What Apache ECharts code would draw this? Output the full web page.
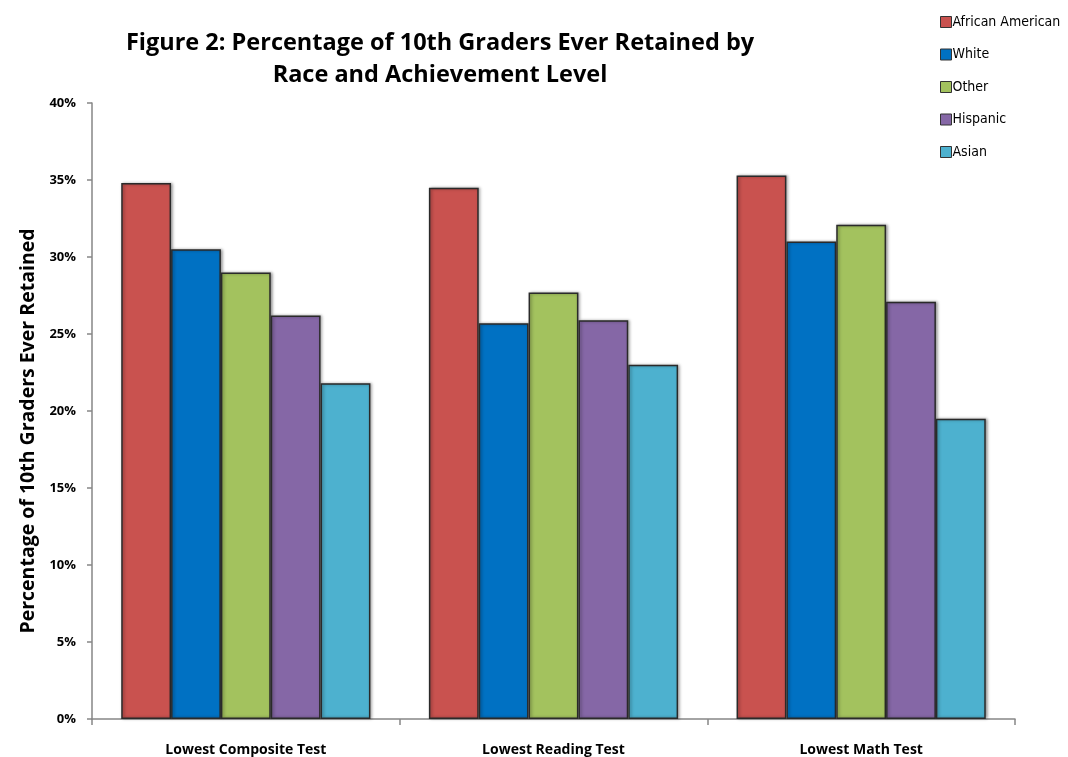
<!DOCTYPE html>
<html>
<head>
<meta charset="utf-8">
<script src="https://cdn.jsdelivr.net/npm/echarts@6/dist/echarts.min.js"></script>
<style>html,body{margin:0;padding:0;background:#fff}#c{width:1068px;height:757px}</style>
</head>
<body>
<div id="c"></div>
<script>
const categories = ['Lowest Composite Test', 'Lowest Reading Test', 'Lowest Math Test'];
const seriesNames = ['African American', 'White', 'Other', 'Hispanic', 'Asian'];
const africanAmerican = [34.8, 34.5, 35.3];
const white = [30.5, 25.7, 31.0];
const other = [29.0, 27.7, 32.1];
const hispanic = [26.2, 25.9, 27.1];
const asian = [21.8, 23.0, 19.5];
const colors = ['#C9524F', '#0071C3', '#A3C25E', '#8567A6', '#4DB1CF'];
const values = [africanAmerican, white, other, hispanic, asian];

const chart = echarts.init(document.getElementById('c'));
const fontFam = '"Open Sans", "DejaVu Sans", sans-serif';
const narrow = '"Liberation Sans Narrow", "DejaVu Sans Condensed", sans-serif';
chart.setOption({
  animation: false,
  backgroundColor: '#fff',
  title: {
    text: 'Figure 2: Percentage of 10th Graders Ever Retained by\nRace and Achievement Level',
    left: 435, top: 22, textAlign: 'center',
    textStyle: { fontFamily: fontFam, fontSize: 23.5, fontWeight: 'bold', color: '#000', lineHeight: 32 }
  },
  legend: {
    orient: 'vertical', left: 935, top: 10, itemGap: 18.5, itemWidth: 11, itemHeight: 11,
    icon: 'rect', width: 130,
    itemStyle: { borderColor: '#333', borderWidth: 1 },
    textStyle: { fontFamily: narrow, fontSize: 14, color: '#000', padding: [0, 0, 0, -4], overflow: 'none' },
    data: seriesNames
  },
  grid: { left: 92, right: 53, top: 103, bottom: 37 },
  xAxis: {
    type: 'category', data: categories,
    axisLine: { lineStyle: { color: '#868686', width: 1.5 } },
    axisTick: { show: true, length: 6, lineStyle: { color: '#868686', width: 1.5 } },
    axisLabel: { fontFamily: fontFam, fontSize: 14, fontWeight: 'bold', color: '#000', margin: 24 }
  },
  yAxis: {
    type: 'value', min: 0, max: 40, interval: 5,
    name: 'Percentage of 10th Graders Ever Retained', nameLocation: 'middle', nameGap: 53,
    nameTextStyle: { fontFamily: fontFam, fontSize: 19.5, fontWeight: 'bold', color: '#000', padding: [0, 40, 0, 0] },
    axisLine: { show: true, lineStyle: { color: '#868686', width: 1.5 } },
    axisTick: { show: true, length: 5, lineStyle: { color: '#868686', width: 1.5 } },
    splitLine: { show: false },
    axisLabel: { formatter: '{value}%', fontFamily: fontFam, fontSize: 13, fontWeight: 'bold', color: '#000', margin: 16 }
  },
  series: seriesNames.map((n, i) => ({
    name: n, type: 'bar', data: values[i],
    barGap: '0%', barCategoryGap: '19%',
    itemStyle: {
      color: colors[i], borderColor: '#2a2a2a', borderWidth: 1.5,
      shadowColor: 'rgba(0,0,0,0.35)', shadowBlur: 3, shadowOffsetX: 1.5, shadowOffsetY: 0
    }
  }))
});
</script>
</body>
</html>
